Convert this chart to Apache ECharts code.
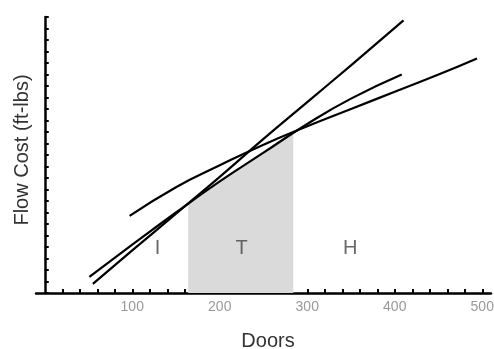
<!DOCTYPE html>
<html>
<head>
<meta charset="utf-8">
<script src="https://cdn.jsdelivr.net/npm/echarts@6/dist/echarts.min.js"></script>
<style>
  html, body { margin: 0; padding: 0; background: #fff; }
  #chart { width: 494px; height: 349px; }
</style>
</head>
<body>
<div id="chart"></div>
<script>
// flow cost curves (y has no units shown)
var doorsI = [55, 100, 150, 200, 250, 300, 350, 410]
var costI = [8, 37, 69, 101, 134, 166, 198, 237]
var doorsT = [51, 100, 150, 200, 250, 300, 350, 408]
var costT = [14, 42, 70, 97, 122, 147, 169, 190]
var doorsH = [97, 150, 200, 250, 300, 350, 400, 450, 494]
var costH = [67, 92, 111, 129, 145, 160, 175, 190, 204]

// grey band where T is cheapest
var shadeDoors = [164, 200, 250, 284]
var shadeCost = [78, 97, 122, 139]

// region letters
var regionNames = ['I', 'T', 'H']
var regionDoors = [129, 225, 349]
var regionCost = [39, 39, 39]

var xTicks = [20, 40, 60, 80, 100, 120, 140, 160, 180, 200, 220, 240, 260, 280, 300,
  320, 340, 360, 380, 400, 420, 440, 460, 480, 500]
var xLabels = [100, 200, 300, 400, 500]

function pairs(xs, ys) {
  return xs.map(function (x, i) { return [x, ys[i]] })
}

var chart = echarts.init(document.getElementById('chart'))

var curve = function (name, xs, ys) {
  return {
    name: name,
    type: 'line',
    data: pairs(xs, ys),
    smooth: true,
    symbol: 'none',
    lineStyle: { color: '#000', width: 2.2 },
    z: 3
  }
}

chart.setOption({
  animation: false,
  grid: { left: 36, right: 3, top: 17, bottom: 56, outerBoundsMode: 'none' },
  xAxis: {
    type: 'value',
    min: -10,
    max: 510,
    name: 'Doors',
    nameLocation: 'middle',
    nameGap: 38,
    nameTextStyle: { color: '#333', fontSize: 20, fontFamily: 'Liberation Sans', padding: [0, 0, 0, 9] },
    axisLine: { lineStyle: { color: '#000', width: 2.5 } },
    axisTick: { inside: true, length: 4, lineStyle: { color: '#000', width: 2 }, customValues: xTicks },
    axisLabel: { color: '#999', fontSize: 14, fontFamily: 'Liberation Sans', margin: 7, customValues: xLabels },
    splitLine: { show: false }
  },
  yAxis: {
    type: 'value',
    min: 0,
    max: 240,
    interval: 10,
    name: 'Flow Cost (ft-lbs)',
    nameLocation: 'middle',
    nameGap: 4,
    nameTextStyle: { color: '#333', fontSize: 20, fontFamily: 'Liberation Sans', padding: [0, 0, 0, 10] },
    axisLine: { onZero: true, lineStyle: { color: '#000', width: 2.5 } },
    axisTick: { inside: true, length: 4, lineStyle: { color: '#000', width: 2 } },
    axisLabel: { show: false },
    splitLine: { show: false }
  },
  series: [
    {
      name: 'shade',
      type: 'line',
      data: pairs(shadeDoors, shadeCost),
      smooth: true,
      symbol: 'none',
      lineStyle: { width: 0 },
      areaStyle: { color: '#dadada', opacity: 1 },
      z: 1
    },
    curve('I', doorsI, costI),
    curve('T', doorsT, costT),
    curve('H', doorsH, costH),
    {
      name: 'regions',
      type: 'scatter',
      data: regionNames.map(function (n, i) { return { name: n, value: [regionDoors[i], regionCost[i]] } }),
      symbolSize: 0,
      label: {
        show: true,
        position: 'inside',
        formatter: '{b}',
        color: '#444',
        fontSize: 20,
        fontFamily: 'Liberation Sans'
      },
      z: 4
    }
  ]
})
</script>
</body>
</html>
